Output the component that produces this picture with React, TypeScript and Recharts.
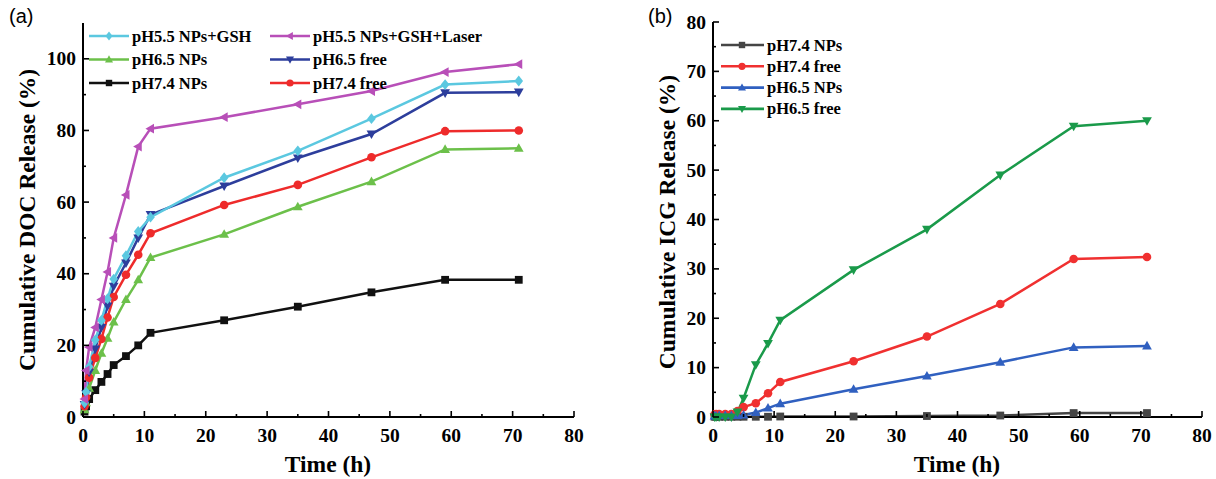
import React from 'react';
import { LineChart, Line, XAxis, YAxis, Legend } from 'recharts';

// ---------- Data ----------
const timeH = [0.25, 0.5, 1, 2, 3, 4, 5, 7, 9, 11, 23, 35, 47, 59, 71];

// Panel (a): Cumulative DOC release (%)
const docPh55GSH = [4, 7, 14, 21.5, 27, 33, 38.5, 45, 51.8, 55.8, 66.8, 74.3, 83.3, 92.8, 93.8];
const docPh55GSHLaser = [5, 13, 19.5, 25, 32.8, 40.5, 50, 62, 75.5, 80.5, 83.7, 87.3, 91, 96.3, 98.5];
const docPh65NPs = [2, 4, 8, 13, 17.8, 22, 26.5, 32.8, 38.3, 44.5, 51, 58.7, 65.7, 74.7, 75];
const docPh65Free = [3.5, 6.5, 12.5, 19, 25, 31, 36.5, 43, 50, 56.5, 64.5, 72.3, 79, 90.5, 90.7];
const docPh74NPs = [1.5, 3, 5, 7.5, 9.8, 12, 14.5, 17, 20, 23.5, 27, 30.8, 34.8, 38.3, 38.3];
const docPh74Free = [3, 5.5, 11, 16.5, 21.8, 27.8, 33.5, 39.7, 45.3, 51.3, 59.2, 64.8, 72.5, 79.8, 80];

// Panel (b): Cumulative ICG release (%)
const icgPh74NPs = [0.05, 0.05, 0.05, 0.05, 0.05, 0.05, 0.05, 0.05, 0.05, 0.1, 0.1, 0.2, 0.3, 0.8, 0.8];
const icgPh74Free = [0.5, 0.6, 0.6, 0.6, 0.6, 1.2, 2.0, 2.8, 4.8, 7.1, 11.3, 16.3, 22.9, 32.0, 32.4];
const icgPh65NPs = [0.2, 0.2, 0.3, 0.3, 0.3, 0.3, 0.4, 0.9, 1.8, 2.7, 5.6, 8.3, 11.1, 14.1, 14.4];
const icgPh65Free = [0, 0, 0, 0, 0, 1.0, 3.8, 10.6, 14.9, 19.6, 29.8, 38.0, 49.0, 58.9, 60.0];

const xTicks = [0, 5, 10, 15, 20, 25, 30, 35, 40, 45, 50, 55, 60, 65, 70, 75, 80];
const yTicksA = [0, 10, 20, 30, 40, 50, 60, 70, 80, 90, 100];
const yTicksB = [0, 5, 10, 15, 20, 25, 30, 35, 40, 45, 50, 55, 60, 65, 70, 75, 80];

const rowsA = timeH.map((t, i) => ({
  t,
  gsh: docPh55GSH[i],
  laser: docPh55GSHLaser[i],
  np65: docPh65NPs[i],
  free65: docPh65Free[i],
  np74: docPh74NPs[i],
  free74: docPh74Free[i],
}));

const rowsB = timeH.map((t, i) => ({
  t,
  np74: icgPh74NPs[i],
  free74: icgPh74Free[i],
  np65: icgPh65NPs[i],
  free65: icgPh65Free[i],
}));

type Shape = 'square' | 'circle' | 'up' | 'down' | 'left' | 'diamond';

const seriesA: { key: string; name: string; color: string; shape: Shape }[] = [
  { key: 'np74', name: 'pH7.4 NPs', color: '#111111', shape: 'square' },
  { key: 'np65', name: 'pH6.5 NPs', color: '#6CC04A', shape: 'up' },
  { key: 'free74', name: 'pH7.4 free', color: '#EE2B2B', shape: 'circle' },
  { key: 'free65', name: 'pH6.5 free', color: '#2D3E9C', shape: 'down' },
  { key: 'gsh', name: 'pH5.5 NPs+GSH', color: '#5BC8E0', shape: 'diamond' },
  { key: 'laser', name: 'pH5.5 NPs+GSH+Laser', color: '#B84FB8', shape: 'left' },
];

const seriesB: { key: string; name: string; color: string; shape: Shape }[] = [
  { key: 'np74', name: 'pH7.4 NPs', color: '#454545', shape: 'square' },
  { key: 'free74', name: 'pH7.4 free', color: '#F03030', shape: 'circle' },
  { key: 'np65', name: 'pH6.5 NPs', color: '#3060C0', shape: 'up' },
  { key: 'free65', name: 'pH6.5 free', color: '#1A9A4A', shape: 'down' },
];

const FONT = '"Liberation Serif", "Times New Roman", serif';

function Marker({ cx, cy, shape, color, s = 3.9 }: { cx: number; cy: number; shape: Shape; color: string; s?: number }) {
  if (cx == null || cy == null || isNaN(cx) || isNaN(cy)) return null;
  switch (shape) {
    case 'square':
      return <rect x={cx - s} y={cy - s} width={2 * s} height={2 * s} fill={color} />;
    case 'circle':
      return <circle cx={cx} cy={cy} r={s + 0.4} fill={color} />;
    case 'up':
      return <polygon points={`${cx},${cy - s * 1.3} ${cx - s * 1.25},${cy + s * 0.9} ${cx + s * 1.25},${cy + s * 0.9}`} fill={color} />;
    case 'down':
      return <polygon points={`${cx},${cy + s * 1.3} ${cx - s * 1.25},${cy - s * 0.9} ${cx + s * 1.25},${cy - s * 0.9}`} fill={color} />;
    case 'left':
      return <polygon points={`${cx - s * 1.3},${cy} ${cx + s * 0.9},${cy - s * 1.25} ${cx + s * 0.9},${cy + s * 1.25}`} fill={color} />;
    case 'diamond':
    default:
      return <polygon points={`${cx},${cy - s * 1.4} ${cx + s * 1.1},${cy} ${cx},${cy + s * 1.4} ${cx - s * 1.1},${cy}`} fill={color} />;
  }
}

const makeDot = (shape: Shape, color: string) => (p: any) => (
  <Marker key={`d-${p.index}`} cx={p.cx} cy={p.cy} shape={shape} color={color} />
);

const XTick = (props: any) => {
  const { x, y, payload } = props;
  const v = payload.value;
  const major = v % 10 === 0;
  return (
    <g>
      <line x1={x} x2={x} y1={y} y2={y - (major ? 6 : 3)} stroke="#000" strokeWidth={1.6} />
      {major && (
        <text x={x} y={y + 25} textAnchor="middle" fontFamily={FONT} fontWeight="bold" fontSize={19.5} fill="#000">
          {v}
        </text>
      )}
    </g>
  );
};

const makeYTick = (labelEvery: number) => (props: any) => {
  const { x, y, payload } = props;
  const v = payload.value;
  const major = v % labelEvery === 0;
  return (
    <g>
      <line x1={x} x2={x + (major ? 6 : 3)} y1={y} y2={y} stroke="#000" strokeWidth={1.6} />
      {major && (
        <text x={x - 7} y={y + 6.5} textAnchor="end" fontFamily={FONT} fontWeight="bold" fontSize={19.5} fill="#000">
          {v}
        </text>
      )}
    </g>
  );
};

const legendItemsA = [
  { s: seriesA[4], col: 0, row: 0 },
  { s: seriesA[5], col: 1, row: 0 },
  { s: seriesA[1], col: 0, row: 1 },
  { s: seriesA[3], col: 1, row: 1 },
  { s: seriesA[0], col: 0, row: 2 },
  { s: seriesA[2], col: 1, row: 2 },
];

const LegendA = () => (
  <svg width={440} height={84} style={{ display: 'block' }}>
    {legendItemsA.map(({ s, col, row }) => {
      const x0 = col === 0 ? 4 : 185;
      const y = 12 + row * 23.5;
      return (
        <g key={s.key}>
          <line x1={x0} x2={x0 + 40} y1={y} y2={y} stroke={s.color} strokeWidth={2.6} />
          <Marker cx={x0 + 20} cy={y} shape={s.shape} color={s.color} s={3.2} />
          <text x={x0 + 43} y={y + 5.5} fontFamily={FONT} fontWeight="bold" fontSize={16.5} fill="#000">
            {s.name}
          </text>
        </g>
      );
    })}
  </svg>
);

const LegendB = () => (
  <svg width={200} height={100} style={{ display: 'block' }}>
    {seriesB.map((s, i) => {
      const y = 11 + i * 21.3;
      return (
        <g key={s.key}>
          <line x1={4} x2={47} y1={y} y2={y} stroke={s.color} strokeWidth={2.6} />
          <Marker cx={25} cy={y} shape={s.shape} color={s.color} s={3.2} />
          <text x={50} y={y + 5.5} fontFamily={FONT} fontWeight="bold" fontSize={16.5} fill="#000">
            {s.name}
          </text>
        </g>
      );
    })}
  </svg>
);

const titleStyle: React.CSSProperties = {
  position: 'absolute',
  fontFamily: FONT,
  fontWeight: 'bold',
  fontSize: 23.5,
  color: '#000',
  whiteSpace: 'nowrap',
  lineHeight: 1,
};

export default function App() {
  return (
    <div style={{ position: 'absolute', left: 0, top: 0, width: 1216, height: 479, background: '#fff', overflow: 'hidden' }}>
      {/* Panel (a) */}
      <div style={{ position: 'absolute', left: 0, top: 0 }}>
        <LineChart width={600} height={479} data={rowsA} margin={{ top: 23, right: 26, bottom: 0, left: 0 }}>
          <XAxis
            dataKey="t"
            type="number"
            domain={[0, 80]}
            ticks={xTicks}
            interval={0}
            tickSize={0}
            tickMargin={0}
            tickLine={false}
            tick={<XTick />}
            height={62}
            axisLine={{ stroke: '#000', strokeWidth: 2 }}
          />
          <XAxis xAxisId="top" orientation="top" type="number" domain={[0, 80]} height={0} tick={false} tickLine={false} axisLine={{ stroke: '#000', strokeWidth: 2 }} />
          <YAxis
            type="number"
            domain={[0, 110]}
            ticks={yTicksA}
            interval={0}
            tickSize={0}
            tickMargin={0}
            tickLine={false}
            tick={makeYTick(20)}
            width={83}
            axisLine={{ stroke: '#000', strokeWidth: 2 }}
          />
          <YAxis yAxisId="right" orientation="right" type="number" domain={[0, 110]} width={0} tick={false} tickLine={false} axisLine={{ stroke: '#000', strokeWidth: 2 }} />
          {seriesA.map((s) => (
            <Line
              key={s.key}
              dataKey={s.key}
              name={s.name}
              stroke={s.color}
              strokeWidth={2.5}
              dot={makeDot(s.shape, s.color)}
              activeDot={false}
              isAnimationActive={false}
              type="linear"
            />
          ))}
          <Legend
            content={<LegendA />}
            verticalAlign="middle"
            align="center"
            layout="horizontal"
            wrapperStyle={{ position: 'absolute', left: 85, top: 24, width: 440 }}
          />
        </LineChart>
      </div>

      {/* Panel (b) */}
      <div style={{ position: 'absolute', left: 620, top: 0 }}>
        <LineChart width={596} height={479} data={rowsB} margin={{ top: 22, right: 14, bottom: 0, left: 0 }}>
          <XAxis
            dataKey="t"
            type="number"
            domain={[0, 80]}
            ticks={xTicks}
            interval={0}
            tickSize={0}
            tickMargin={0}
            tickLine={false}
            tick={<XTick />}
            height={62}
            axisLine={{ stroke: '#000', strokeWidth: 2 }}
          />
          <XAxis xAxisId="top" orientation="top" type="number" domain={[0, 80]} height={0} tick={false} tickLine={false} axisLine={{ stroke: '#000', strokeWidth: 2 }} />
          <YAxis
            type="number"
            domain={[0, 80]}
            ticks={yTicksB}
            interval={0}
            tickSize={0}
            tickMargin={0}
            tickLine={false}
            tick={makeYTick(10)}
            width={93}
            axisLine={{ stroke: '#000', strokeWidth: 2 }}
          />
          <YAxis yAxisId="right" orientation="right" type="number" domain={[0, 80]} width={0} tick={false} tickLine={false} axisLine={{ stroke: '#000', strokeWidth: 2 }} />
          {seriesB.map((s) => (
            <Line
              key={s.key}
              dataKey={s.key}
              name={s.name}
              stroke={s.color}
              strokeWidth={2.5}
              dot={makeDot(s.shape, s.color)}
              activeDot={false}
              isAnimationActive={false}
              type="linear"
            />
          ))}
          <Legend
            content={<LegendB />}
            verticalAlign="middle"
            align="center"
            layout="horizontal"
            wrapperStyle={{ position: 'absolute', left: 97, top: 34, width: 200 }}
          />
        </LineChart>
      </div>

      {/* Titles */}
      <div style={{ position: 'absolute', left: 9, top: 5, fontFamily: '"Liberation Sans", Arial, sans-serif', fontSize: 20 }}>(a)</div>
      <div style={{ position: 'absolute', left: 648, top: 5, fontFamily: '"Liberation Sans", Arial, sans-serif', fontSize: 20 }}>(b)</div>
      <div style={{ ...titleStyle, left: 328, top: 453, transform: 'translateX(-50%)' }}>Time (h)</div>
      <div style={{ ...titleStyle, left: 957, top: 453, transform: 'translateX(-50%)' }}>Time (h)</div>
      <div style={{ ...titleStyle, left: 28, top: 220, transform: 'translate(-50%, -50%) rotate(-90deg)' }}>Cumulative DOC Release (%)</div>
      <div style={{ ...titleStyle, left: 668, top: 222, transform: 'translate(-50%, -50%) rotate(-90deg)' }}>Cumulative ICG Release (%)</div>
    </div>
  );
}
